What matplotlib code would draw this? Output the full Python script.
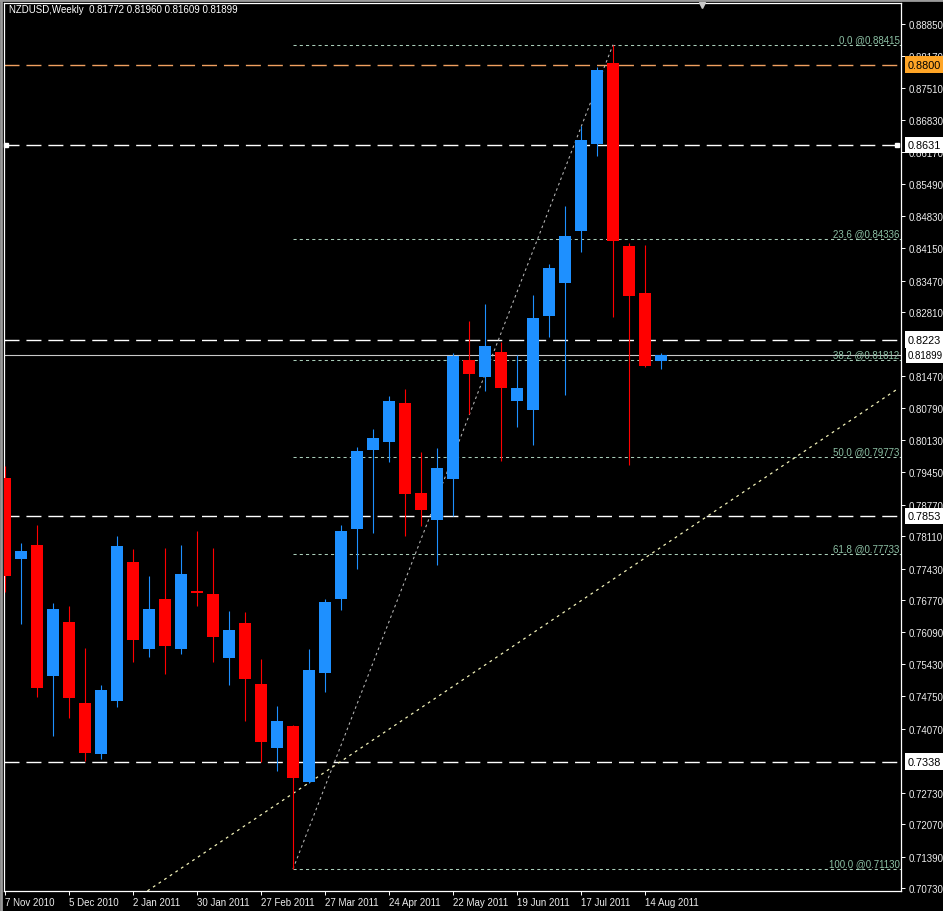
import matplotlib
matplotlib.use("Agg")
import matplotlib.pyplot as plt
import numpy as np

# weekly NZDUSD candles, 7 Nov 2010 .. 21 Aug 2011
opens = [0.7933, 0.7763, 0.7792, 0.7518, 0.7631, 0.7461, 0.7354, 0.7465, 0.7757, 0.7574,
         0.7679, 0.7574, 0.7696, 0.7690, 0.7555, 0.7629, 0.7501, 0.7367, 0.7413, 0.7295,
         0.7524, 0.7679, 0.7826, 0.7992, 0.8008, 0.8090, 0.7901, 0.7845, 0.7931, 0.8180,
         0.8145, 0.8197, 0.8094, 0.8076, 0.8273, 0.8342, 0.8451, 0.8633, 0.8803, 0.8419,
         0.8321, 0.81772]
highs = [0.7958, 0.7797, 0.7834, 0.7671, 0.7664, 0.7576, 0.7499, 0.7811, 0.7784, 0.7727,
         0.7786, 0.7792, 0.7822, 0.7786, 0.7654, 0.7652, 0.7553, 0.7455, 0.7415, 0.7574,
         0.7679, 0.7834, 0.7998, 0.8036, 0.8105, 0.8120, 0.7987, 0.7996, 0.8195, 0.8262,
         0.8298, 0.8218, 0.8191, 0.8317, 0.8382, 0.8503, 0.8671, 0.8795, 0.88415, 0.8426,
         0.8422, 0.81960]
lows = [0.7694, 0.7627, 0.7474, 0.7392, 0.7430, 0.7339, 0.7344, 0.7453, 0.7547, 0.7558,
        0.7522, 0.7564, 0.7664, 0.7547, 0.7499, 0.7423, 0.7337, 0.7318, 0.7113, 0.7294,
        0.7484, 0.7656, 0.7742, 0.7818, 0.7966, 0.7811, 0.7832, 0.7750, 0.7853, 0.8067,
        0.8115, 0.7969, 0.8040, 0.8002, 0.8229, 0.8107, 0.8407, 0.8608, 0.8271, 0.7960,
        0.8166, 0.81609]
closes = [0.7727, 0.7780, 0.7493, 0.7658, 0.7472, 0.7356, 0.7488, 0.7790, 0.7593, 0.7658,
          0.7581, 0.7732, 0.7692, 0.7599, 0.7614, 0.7511, 0.7379, 0.7423, 0.7304, 0.7530,
          0.7673, 0.7822, 0.7990, 0.8017, 0.8094, 0.7899, 0.7866, 0.7954, 0.8189, 0.8151,
          0.8210, 0.8122, 0.8122, 0.8268, 0.8373, 0.8440, 0.8642, 0.8789, 0.8430, 0.8315,
          0.8168, 0.81899]

date_labels = ["7 Nov 2010", "5 Dec 2010", "2 Jan 2011", "30 Jan 2011", "27 Feb 2011",
               "27 Mar 2011", "24 Apr 2011", "22 May 2011", "19 Jun 2011", "17 Jul 2011",
               "14 Aug 2011"]
price_ticks = [0.88850, 0.88170, 0.87510, 0.86830, 0.86170, 0.85490, 0.84830, 0.84150,
               0.83470, 0.82810, 0.81470, 0.80790, 0.80130, 0.79450, 0.78770,
               0.78110, 0.77430, 0.76770, 0.76090, 0.75430, 0.74750, 0.74070,
               0.72730, 0.72070, 0.71390, 0.70730]

# horizontal lines
white_lines = [0.8631, 0.8223, 0.7853, 0.7338]
white_labels = ["0.8631", "0.8223", "0.7853", "0.7338"]
orange_line = 0.8800
bid = 0.81899

# fibonacci retracement (low bar 18 -> high bar 38)
fib_start_bar = 18
fib_end_bar = 38
fib_names = ["0.0", "23.6", "38.2", "50.0", "61.8", "100.0"]
fib_prices = [0.88415, 0.84336, 0.81812, 0.79773, 0.77733, 0.71130]

# long dotted trend line
trend_x = [8.9, 55.8]
trend_y = [0.7067, 0.8120]

W, H = 943, 912
fig = plt.figure(figsize=(W / 100, H / 100), dpi=100, facecolor="black")
ax = fig.add_axes([4 / W, 20 / H, 897 / W, 888 / H], facecolor="black")

fs = 7.0
font = "Liberation Sans"

o = np.array(opens)
h = np.array(highs)
l = np.array(lows)
c = np.array(closes)
x = np.arange(len(o))
col = np.where(c >= o, "#1e90ff", "#ff0000")

ax.vlines(x, l, h, colors=col, lw=0.8, zorder=3)
body = np.maximum(np.abs(c - o), 0.00035)
ax.bar(x, body, bottom=np.minimum(o, c), width=0.69, color=col, lw=0, zorder=3)

# horizontal levels
for p in white_lines:
    ax.axhline(p, color="white", lw=1.0, ls=(0, (10.8, 5.0)), zorder=2)
ax.axhline(orange_line, color="#f0a060", lw=1.0, ls=(0, (10.8, 5.0)), zorder=2)
ax.axhline(bid, color="#c8c8c8", lw=0.8, zorder=2)

# anchor squares on the selected line
ax.plot([0.002, 0.995], [white_lines[0]] * 2, "s", ms=2.6, color="white",
        transform=ax.get_yaxis_transform(), clip_on=False, zorder=4)

# fib retracement
fib_col = "#a9cdb9"
for name, p in zip(fib_names, fib_prices):
    ax.plot([fib_start_bar, 56], [p, p], color=fib_col, lw=0.75, ls=(0, (3, 3)), zorder=2)
    ax.text(0.9985, p + 0.0002, f"{name} @{p:.5f}", transform=ax.get_yaxis_transform(),
            ha="right", va="bottom", color="#8cc0a4", fontsize=fs, family=font, zorder=4)
ax.plot([fib_start_bar, fib_end_bar], [fib_prices[-1], fib_prices[0]], color="#b8b8b8",
        lw=0.75, ls=(0, (2.5, 3)), zorder=2)

ax.plot(trend_x, trend_y, color="#f2f2b8", lw=0.9, ls=(0, (2.2, 3.2)), zorder=2)

# price label boxes on the right
box_x = 1.0078
for p, t in zip(white_lines, white_labels):
    ax.text(box_x, p, t, transform=ax.get_yaxis_transform(), ha="left", va="center",
            fontsize=7.8, family=font, color="black", clip_on=False, zorder=6,
            bbox=dict(boxstyle="square,pad=0.3", fc="white", ec="none"))
ax.text(box_x, orange_line, f"{orange_line:.4f}", transform=ax.get_yaxis_transform(),
        ha="left", va="center", fontsize=7.8, family=font, color="black", clip_on=False,
        zorder=6, bbox=dict(boxstyle="square,pad=0.3", fc="#ffa526", ec="none"))
ax.text(box_x, bid, f"{bid:.5f}", transform=ax.get_yaxis_transform(), ha="left",
        va="center", fontsize=fs, family=font, color="black", clip_on=False, zorder=6,
        bbox=dict(boxstyle="square,pad=0.25", fc="white", ec="none"))

# axes
ax.set_xlim(-0.0625, 56)
ax.set_ylim(0.70668, 0.89290)
for s in ax.spines.values():
    s.set_color("white")
    s.set_linewidth(0.9)

ax.yaxis.tick_right()
ax.set_yticks(price_ticks)
ax.set_yticklabels([f"{v:.5f}" for v in price_ticks])
ax.tick_params(axis="y", colors="white", length=3, width=0.7, pad=2.5,
               labelsize=fs, labelcolor="#ececec")
ax.set_xticks(x[::4][:len(date_labels)])
ax.set_xticklabels(date_labels)
ax.tick_params(axis="x", colors="white", length=3, width=0.7, pad=1.5,
               labelsize=fs, labelcolor="#ececec")
for lab in ax.get_xticklabels() + ax.get_yticklabels():
    lab.set_family(font)
for lab in ax.get_xticklabels():
    lab.set_ha("left")

ax.text(0.006, 0.9985, "NZDUSD,Weekly  0.81772 0.81960 0.81609 0.81899",
        transform=ax.transAxes, ha="left", va="top", color="white",
        fontsize=fs, family=font, zorder=6)

# chart shift marker at the top
ax.plot([0.778], [0.9975], marker="v", ms=5, color="#c8c8c8", transform=ax.transAxes,
        clip_on=False, zorder=6)

# window border
fig.add_artist(plt.Line2D([0, 1], [0.9985, 0.9985], transform=fig.transFigure,
                          color="#9a9a9a", lw=2))
fig.add_artist(plt.Line2D([0.0012, 0.0012], [0, 1], transform=fig.transFigure,
                          color="#9a9a9a", lw=2))

fig.savefig("out.png", dpi=100, facecolor="black")
